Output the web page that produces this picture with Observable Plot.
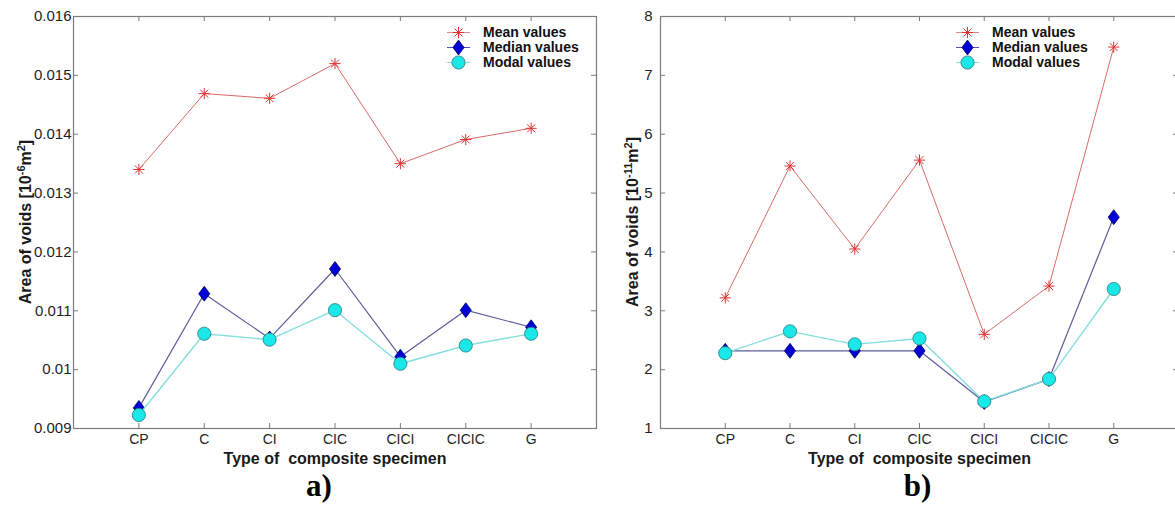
<!DOCTYPE html>
<html>
<head>
<meta charset="utf-8">
<script src="https://cdn.jsdelivr.net/npm/d3@7"></script>
<script src="https://cdn.jsdelivr.net/npm/@observablehq/plot@0.6"></script>
<style>
  html, body { margin: 0; padding: 0; background: #fff; overflow: hidden; width: 1175px; height: 506px; }
  #wrap { position: relative; width: 1175px; height: 506px; overflow: hidden; font-family: "Liberation Sans", Arial, sans-serif; }
  .panel { position: absolute; top: 0; }
  .ylab { position: absolute; font: bold 16px "Liberation Sans", Arial, sans-serif; color: #1a1a1a; white-space: nowrap;
          transform: translate(-50%, -50%) rotate(-90deg); line-height: 1; }
  .ylab sup { font-size: 11px; vertical-align: 6px; line-height: 0; }
  .legend { position: absolute; font: bold 14px "Liberation Sans", Arial, sans-serif; color: #111; }
  .legend .row { display: flex; align-items: center; height: 15px; white-space: nowrap; }
  .legend svg { display: block; margin-right: 0; }
</style>
</head>
<body>
<div id="wrap"></div>
<script>
// ---- data ----
const categories = ["CP", "C", "CI", "CIC", "CICI", "CICIC", "G"];
const positions = [1, 2, 3, 4, 5, 6, 7];
const seriesNames = ["Mean values", "Median values", "Modal values"];

const meanA   = [0.0134, 0.01469, 0.01461, 0.0152, 0.0135, 0.01391, 0.0141];
const medianA = [0.00935, 0.01129, 0.01053, 0.01171, 0.01022, 0.01101, 0.01072];
const modalA  = [0.00923, 0.01061, 0.01051, 0.01101, 0.0101, 0.01041, 0.01061];
const yTicksA = [0.009, 0.010, 0.011, 0.012, 0.013, 0.014, 0.015, 0.016];

const meanB   = [3.22, 5.46, 4.05, 5.56, 2.6, 3.42, 7.48];
const medianB = [2.32, 2.32, 2.32, 2.32, 1.45, 1.84, 4.59];
const modalB  = [2.28, 2.65, 2.43, 2.53, 1.46, 1.84, 3.37];
const yTicksB = [1, 2, 3, 4, 5, 6, 7, 8];

const xLabel = "Type of\u00a0 composite specimen";

// ---- styles ----
const C = {
  frame: "#7c7c7c", tickText: "#1e1e1e",
  meanLine: "#d86a6a", meanMark: "#e03434",
  medLine: "#5c5c9c", medFill: "#0000d6", medStroke: "#00005e",
  modLine: "#86dede", modFill: "#1ae8e8", modStroke: "#2b7a7a"
};

// MATLAB-like diamond (wider than d3's)
const diamondSym = {
  draw(ctx, size) {
    const s = Math.sqrt(size);
    const hy = s * 0.6, hx = s * 0.45;
    ctx.moveTo(0, -hy); ctx.lineTo(hx, 0); ctx.lineTo(0, hy); ctx.lineTo(-hx, 0); ctx.closePath();
  }
};

const wrap = document.getElementById("wrap");

function panel(o) {
  const H = 506, mt = 16, mb = 78;
  const ph = H - mt - mb;
  const pw = o.width - o.marginLeft - o.marginRight;
  const rows = vals => positions.map((p, i) => ({ x: p, y: vals[i], cat: categories[i] }));
  const mean = rows(o.mean), median = rows(o.median), modal = rows(o.modal);
  const tickStyle = { stroke: C.frame, strokeWidth: 1 };

  const chart = Plot.plot({
    width: o.width, height: H,
    marginLeft: o.marginLeft, marginRight: o.marginRight, marginTop: mt, marginBottom: mb,
    x: { domain: [0, 8] },
    y: { domain: o.yDomain },
    style: { fontFamily: "'Liberation Sans', Arial, sans-serif", background: "transparent", overflow: "visible" },
    marks: [
      Plot.frame({ stroke: C.frame, strokeWidth: 1.2 }),
      // inward ticks on all four sides
      Plot.tickX(positions, { x: d => d, insetTop: ph - 5, ...tickStyle }),
      Plot.tickX(positions, { x: d => d, insetBottom: ph - 5, ...tickStyle }),
      Plot.tickY(o.yTicks, { y: d => d, insetRight: pw - 5, ...tickStyle }),
      Plot.tickY(o.yTicks, { y: d => d, insetLeft: pw - 5, ...tickStyle }),
      Plot.axisX({ ticks: positions, tickFormat: d => categories[d - 1], tickSize: 0, tickPadding: 6,
                   label: null, fontSize: 14, fill: C.tickText }),
      Plot.axisY({ ticks: o.yTicks, tickFormat: o.yFmt, tickSize: 0, tickPadding: o.tickPad,
                   label: null, fontSize: 15, fill: C.tickText }),
      // mean
      Plot.line(mean, { x: "x", y: "y", stroke: C.meanLine, strokeWidth: 1 }),
      Plot.dot(mean, { x: "x", y: "y", symbol: "plus", r: 3.7, stroke: C.meanMark, strokeWidth: 1 }),
      Plot.dot(mean, { x: "x", y: "y", symbol: "times", r: 3.7, stroke: C.meanMark, strokeWidth: 1 }),
      // median
      Plot.line(median, { x: "x", y: "y", stroke: C.medLine, strokeWidth: 1.2 }),
      Plot.dot(median, { x: "x", y: "y", symbol: diamondSym, r: 7, fill: C.medFill, stroke: C.medStroke, strokeWidth: 0.8 }),
      // modal
      Plot.line(modal, { x: "x", y: "y", stroke: C.modLine, strokeWidth: 1.4 }),
      Plot.dot(modal, { x: "x", y: "y", r: 6.6, fill: C.modFill, stroke: C.modStroke, strokeWidth: 0.8 }),
      // axis title and panel tag
      Plot.text([xLabel], { text: d => d, frameAnchor: "bottom", dy: 30, lineAnchor: "middle",
                            fontSize: 16, fontWeight: "bold", fill: "#1a1a1a" }),
      Plot.text([o.tag], { text: d => d, frameAnchor: "bottom", dy: 58, dx: o.tagDx, lineAnchor: "middle",
                           fontFamily: "'Liberation Serif', 'Times New Roman', serif", fontSize: 31, fontWeight: "bold", fill: "#000" })
    ]
  });
  chart.classList.add("panel");
  chart.style.left = o.left + "px";
  wrap.appendChild(chart);

  // y axis title (HTML for real superscripts)
  const yl = document.createElement("div");
  yl.className = "ylab";
  yl.style.left = o.ylabX + "px";
  yl.style.top = (mt + ph / 2) + "px";
  yl.innerHTML = o.ylabHTML;
  wrap.appendChild(yl);

  // legend
  const lg = document.createElement("div");
  lg.className = "legend";
  lg.style.left = o.legendX + "px";
  lg.style.top = "24.5px";
  wrap.appendChild(lg);
  const specs = [
    { line: "#e08a8a", kind: "asterisk" },
    { line: "#5050c8", kind: "diamond" },
    { line: "#86dede", kind: "circle" }
  ];
  specs.forEach((s, i) => {
    const row = d3.select(lg).append("div").attr("class", "row");
    const svg = row.append("svg").attr("width", 36).attr("height", 15);
    svg.append("line").attr("x1", 0).attr("x2", 23).attr("y1", 7.5).attr("y2", 7.5)
      .attr("stroke", s.line).attr("stroke-width", 1);
    const g = svg.append("g").attr("transform", "translate(11.5,7.5)");
    if (s.kind === "asterisk") {
      const sz = Math.PI * 3.7 * 3.7;
      g.append("path").attr("d", d3.symbol(d3.symbolPlus, sz)()).attr("fill", "none").attr("stroke", C.meanMark);
      g.append("path").attr("d", d3.symbol(d3.symbolTimes, sz)()).attr("fill", "none").attr("stroke", C.meanMark);
    } else if (s.kind === "diamond") {
      g.append("path").attr("d", d3.symbol(diamondSym, Math.PI * 49)()).attr("fill", C.medFill)
        .attr("stroke", C.medStroke).attr("stroke-width", 0.8);
    } else {
      g.append("circle").attr("r", 6.6).attr("fill", C.modFill).attr("stroke", C.modStroke).attr("stroke-width", 0.8);
    }
    row.append("span").text(seriesNames[i]);
  });
}

panel({
  left: 0, width: 600, marginLeft: 73, marginRight: 4,
  yDomain: [0.009, 0.016], yTicks: yTicksA, yFmt: d => String(+d.toFixed(3)), tickPad: 2,
  mean: meanA, median: medianA, modal: modalA,
  tag: "a)", tagDx: -16,
  ylabX: 26, ylabHTML: "Area of voids [10<sup>-6</sup>m<sup>2</sup>]",
  legendX: 447
});

panel({
  left: 600, width: 580, marginLeft: 60, marginRight: 2,
  yDomain: [1, 8], yTicks: yTicksB, yFmt: d => String(d), tickPad: 8,
  mean: meanB, median: medianB, modal: modalB,
  tag: "b)", tagDx: -2,
  ylabX: 633, ylabHTML: "Area of voids [10<sup>-11</sup>m<sup>2</sup>]",
  legendX: 956
});
</script>
</body>
</html>
